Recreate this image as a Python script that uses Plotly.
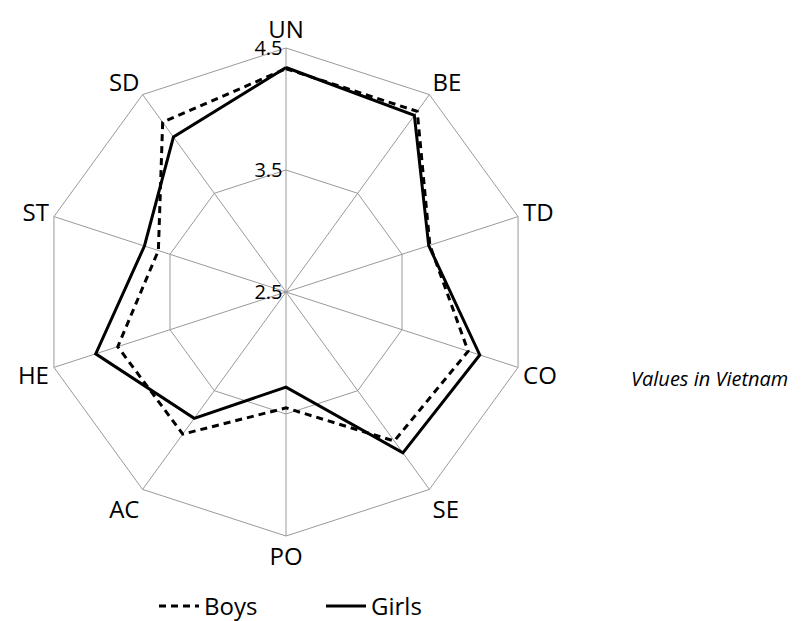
import plotly.graph_objects as go

categories = ["UN", "BE", "TD", "CO", "SE", "PO", "AC", "HE", "ST", "SD"]
boys = [4.33, 4.33, 3.74, 4.07, 4.01, 3.45, 3.94, 3.95, 3.60, 4.22]
girls = [4.34, 4.29, 3.73, 4.17, 4.13, 3.28, 3.78, 4.14, 3.72, 4.07]
radial_ticks = [2.5, 3.5, 4.5]
tick_text = ["2.5", "3.5", "4.5"]

FONT = "Open Sans"
GRID = "#9a9a9a"

fig = go.Figure()
fig.add_trace(go.Scatterpolar(
    r=boys + boys[:1], theta=categories + categories[:1], mode="lines",
    name="Boys", line=dict(color="black", width=3, dash="7px,5px")))
fig.add_trace(go.Scatterpolar(
    r=girls + girls[:1], theta=categories + categories[:1], mode="lines",
    name="Girls", line=dict(color="black", width=3)))

dx = -9 / 803
dy = 7 / 621
fig.update_layout(
    width=803, height=621,
    margin=dict(l=0, r=0, t=0, b=0),
    paper_bgcolor="white",
    font=dict(family=FONT, size=20, color="black"),
    polar=dict(
        domain=dict(x=[43/803 + dx, 531/803 + dx], y=[1-535/621 + dy, 1-47/621 + dy]),
        bgcolor="white",
        gridshape="linear",
        angularaxis=dict(direction="clockwise", rotation=90, showgrid=True,
                         gridcolor=GRID, gridwidth=1, linecolor=GRID, linewidth=1,
                         ticks="", tickfont=dict(size=24)),
        radialaxis=dict(range=[2.5, 4.5], tickvals=radial_ticks, ticktext=tick_text,
                        angle=90, tickangle=90, side="counterclockwise",
                        showline=False, ticks="",
                        gridcolor=GRID, gridwidth=1, tickfont=dict(size=20)),
    ),
    legend=dict(orientation="h", x=313/803, xanchor="center", y=0.0, yanchor="bottom",
                font=dict(size=24), itemwidth=40, entrywidth=112, entrywidthmode="pixels"),
    annotations=[dict(text="<i>Values in Vietnam</i>", x=701/803, y=1-370/621,
                      xref="paper", yref="paper", xanchor="center", yanchor="middle",
                      showarrow=False, font=dict(size=20, family=FONT))],
)
fig.write_html("out.html")
